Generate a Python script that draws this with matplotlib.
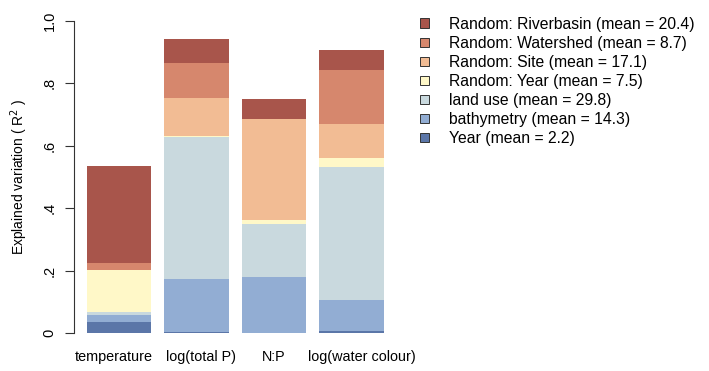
import matplotlib.pyplot as plt
from matplotlib.patches import Patch
import numpy as np

plt.rcParams['font.family'] = ['Liberation Sans', 'DejaVu Sans']

# Data
responses = ['temperature', 'log(total P)', 'N:P', 'log(water colour)']
components = ['Random: Riverbasin (mean = 20.4)', 'Random: Watershed (mean = 8.7)',
              'Random: Site (mean = 17.1)', 'Random: Year (mean = 7.5)',
              'land use (mean = 29.8)', 'bathymetry (mean = 14.3)', 'Year (mean = 2.2)']

# stacked from the bottom up
year = [0.036, 0.003, 0.001, 0.007]
bathymetry = [0.0225, 0.171, 0.178, 0.099]
land_use = [0.0085, 0.453, 0.172, 0.425]
rand_year = [0.135, 0.004, 0.012, 0.029]
rand_site = [0.0, 0.123, 0.322, 0.110]
rand_watershed = [0.0215, 0.110, 0.0, 0.172]
rand_riverbasin = [0.311, 0.078, 0.064, 0.065]

colors = ['#A8554B', '#D6876D', '#F2BC94', '#FFF8C8', '#C9D9DE', '#92ADD3', '#5B76A8']

fig = plt.figure(figsize=(7.09, 3.71), dpi=100)
ax = fig.add_axes([74 / 709, 0.1016, 316 / 709, 0.8426])

layers = [year, bathymetry, land_use, rand_year, rand_site, rand_watershed, rand_riverbasin]
layer_cols = colors[::-1]
x = np.arange(len(responses))
bottom = np.zeros(len(responses))
for vals, c in zip(layers, layer_cols):
    ax.bar(x, vals, width=0.833, bottom=bottom, color=c, edgecolor='none')
    bottom += np.array(vals)

ax.set_xlim(-0.58, 3.497)
ax.set_ylim(0, 1.0)
for s in ['top', 'right', 'bottom']:
    ax.spines[s].set_visible(False)
ax.spines['left'].set_color('#333333')
ax.spines['left'].set_bounds(0, 1.0)
ax.set_yticks([0, 0.2, 0.4, 0.6, 0.8, 1.0])
ax.set_yticklabels(['0', '.2', '.4', '.6', '.8', '1.0'], rotation=90, va='center', fontsize=10.5)
ax.tick_params(axis='y', length=6.5, color='#333333', pad=6)
# labels sit slightly off the bar centres in the original
ax.set_xticks(x + np.array([-0.07, 0.06, -0.01, 0.13]))
ax.set_xticklabels(responses, fontsize=10.4)
ax.tick_params(axis='x', length=0, pad=12)
ax.set_ylabel('Explained variation ( R$^2$ )', fontsize=10, labelpad=9)

handles = [Patch(facecolor=c, edgecolor='#333333', linewidth=0.7) for c in colors]
fig.legend(handles, components, loc='upper left', bbox_to_anchor=(414 / 709, 1 - 10.5 / 371),
           frameon=False, fontsize=11.3, handlelength=0.55, handleheight=0.55,
           handletextpad=1.25, labelspacing=0.26, borderaxespad=0)

plt.savefig('out.png', dpi=100)
